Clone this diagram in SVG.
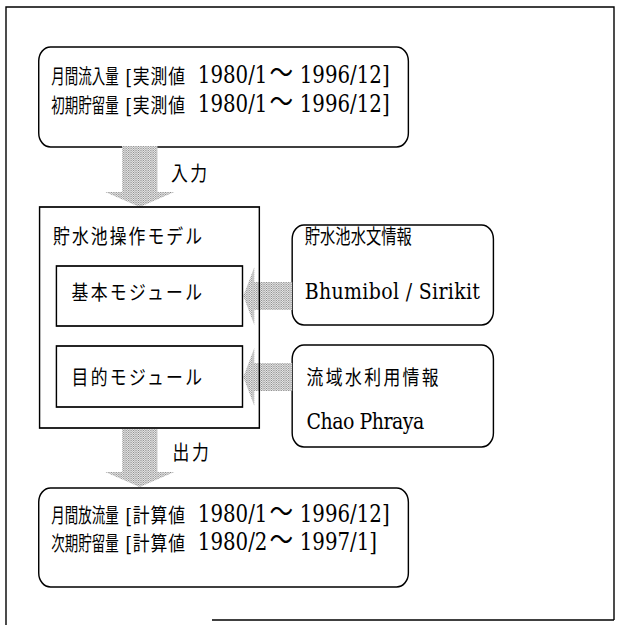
<svg xmlns="http://www.w3.org/2000/svg" width="621" height="625" viewBox="0 0 621 625">
<defs>
<pattern id="st" width="2" height="2" patternUnits="userSpaceOnUse">
<rect width="2" height="2" fill="#ececec"/>
<rect width="1" height="1" fill="#8c8c8c"/>
<rect x="1" y="1" width="1" height="1" fill="#b0b0b0"/>
</pattern>
</defs>
<style>
.box{fill:#fff;stroke:#000;stroke-width:1.7}
.frame{fill:none;stroke:#000;stroke-width:1.4}
.j{font-family:"Noto Sans CJK JP","Noto Sans CJK SC",sans-serif;font-size:20px;fill:#000}
.b{font-family:"DejaVu Serif","Noto Sans CJK JP","Noto Sans CJK SC",serif;font-size:20px;letter-spacing:1px}
.n{font-family:"DejaVu Serif","Liberation Serif",serif;font-size:23.5px}
.e{font-family:"DejaVu Serif","Liberation Serif",serif;font-size:22.5px;fill:#000}
.w{font-size:28px}
.arr{fill:url(#st);stroke:none}
</style>
<rect width="621" height="625" fill="#fff"/>
<g id="frame">
<path class="frame" d="M6,625 V7 H614 V620"/>
<path class="frame" d="M212,620 H614"/>
</g>
<g transform="scale(0.842,1)">
<g id="input-data">
<rect class="box" x="46" y="47" width="439" height="100" rx="14"/>
<text class="j" y="84"><tspan x="61" textLength="80" lengthAdjust="spacingAndGlyphs">月間流入量</tspan><tspan class="b" x="149">[実測値</tspan><tspan class="n" x="235" dy="-1">1980/1</tspan><tspan class="w" x="320">〜</tspan><tspan class="n" x="356">1996/12]</tspan></text>
<text class="j" y="113"><tspan x="61" textLength="80" lengthAdjust="spacingAndGlyphs">初期貯留量</tspan><tspan class="b" x="149">[実測値</tspan><tspan class="n" x="235" dy="-1">1980/1</tspan><tspan class="w" x="320">〜</tspan><tspan class="n" x="356">1996/12]</tspan></text>
</g>
<g id="reservoir-info">
<rect class="box" x="347" y="225" width="239" height="100" rx="14"/>
<text class="j" x="362" y="244" textLength="127" lengthAdjust="spacingAndGlyphs">貯水池水文情報</text>
<text class="e" x="362" y="299" textLength="208">Bhumibol / Sirikit</text>
</g>
<g id="basin-info">
<rect class="box" x="347" y="345" width="239" height="102" rx="14"/>
<text class="j" x="364" y="385" textLength="157">流域水利用情報</text>
<text class="e" x="364" y="429" textLength="140">Chao Phraya</text>
</g>
<g id="connectors">
<polygon class="arr" points="145,146 187,146 187,192 207,192 166,207 125,192 145,192"/>
<text class="j" x="203" y="181" textLength="43">入力</text>
<polygon class="arr" points="347,282 302,282 302,267 289,296 302,325 302,310 347,310"/>
<polygon class="arr" points="347,363 302,363 302,348 289,377 302,406 302,391 347,391"/>
<polygon class="arr" points="145,429 187,429 187,472 207,472 166,487 125,472 145,472"/>
<text class="j" x="205" y="460" textLength="43">出力</text>
</g>
<g id="model">
<rect class="box" x="47" y="207" width="261" height="221" style="fill:none"/>
<text class="j" x="63" y="244" font-size="21" textLength="177">貯水池操作モデル</text>
</g>
<g id="basic-module">
<rect class="box" x="67" y="266" width="221" height="60"/>
<text class="j" x="85" y="300" textLength="155">基本モジュール</text>
</g>
<g id="purpose-module">
<rect class="box" x="67" y="346" width="221" height="61"/>
<text class="j" x="85" y="385" textLength="155">目的モジュール</text>
</g>
<g id="output-data">
<rect class="box" x="46" y="488" width="439" height="99" rx="14"/>
<text class="j" y="523"><tspan x="61" textLength="80" lengthAdjust="spacingAndGlyphs">月間放流量</tspan><tspan class="b" x="149">[計算値</tspan><tspan class="n" x="235" dy="-1">1980/1</tspan><tspan class="w" x="320">〜</tspan><tspan class="n" x="356">1996/12]</tspan></text>
<text class="j" y="551"><tspan x="61" textLength="80" lengthAdjust="spacingAndGlyphs">次期貯留量</tspan><tspan class="b" x="149">[計算値</tspan><tspan class="n" x="235" dy="-1">1980/2</tspan><tspan class="w" x="320">〜</tspan><tspan class="n" x="356">1997/1]</tspan></text>
</g>
</g>
</svg>
